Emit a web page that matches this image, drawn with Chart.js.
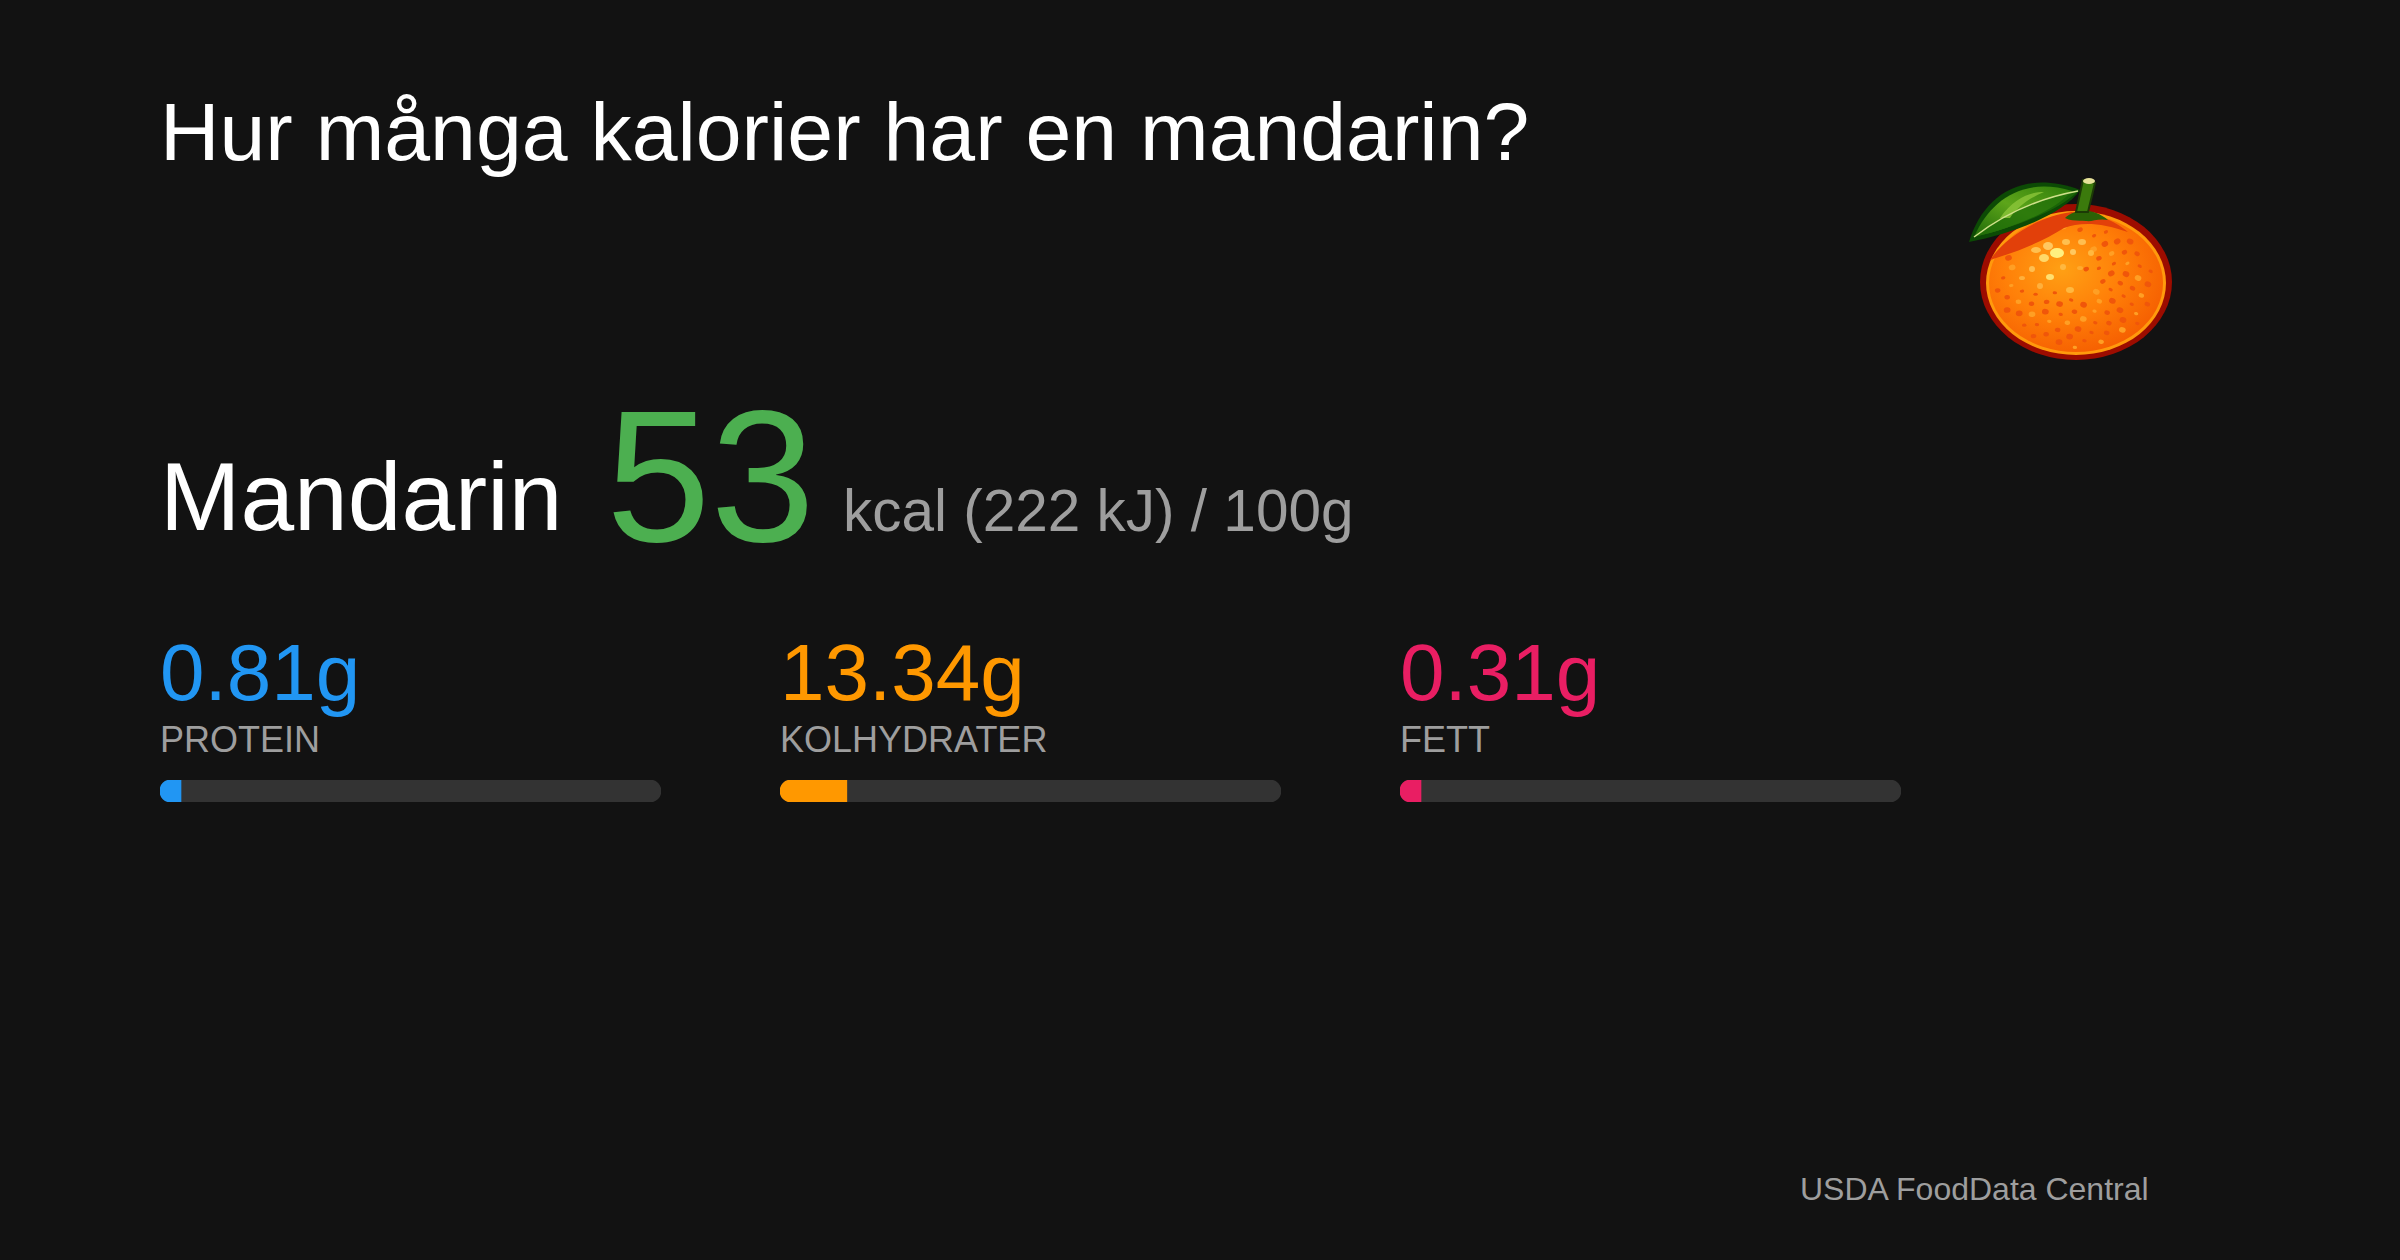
<!DOCTYPE html>
<html lang="sv">
<head>
<meta charset="utf-8">
<title>Hur många kalorier har en mandarin?</title>
<script src="https://cdn.jsdelivr.net/npm/chart.js@4/dist/chart.umd.min.js"></script>
<style>
    html, body { margin: 0; padding: 0; background: #121212; }
    body { position: relative; width: 2400px; height: 1260px; overflow: hidden; font-family: "Liberation Sans", Arial, sans-serif; }
    .txt { position: absolute; white-space: nowrap; line-height: 1; }
    .bar { position: absolute; top: 780px; width: 501px; height: 22px; }
    #fruit { position: absolute; left: 1960px; top: 170px; }
</style>
</head>
<body>
<div class="txt" style="left:160px;top:90px;font-size:82.4px;color:#fff;">Hur många kalorier har en mandarin?</div>
<div class="txt" style="left:160px;top:449px;font-size:96.5px;color:#fff;">Mandarin</div>
<div class="txt" id="kcal" style="left:606px;top:382px;font-size:188px;color:#4CAF50;"></div>
<div class="txt" style="left:843px;top:482px;font-size:58.5px;color:#9e9e9e;">kcal (222 kJ) / 100g</div>
<div id="nutrients"></div>
<div class="txt" style="left:1800px;top:1173px;font-size:32px;color:#9e9e9e;">USDA FoodData Central</div>

<svg id="fruit" width="220" height="200" viewBox="0 0 220 200">
    <defs>
        <radialGradient id="peel" cx="0.42" cy="0.4" r="0.68">
            <stop offset="0" stop-color="#ffa014"/>
            <stop offset="0.5" stop-color="#ff7f08"/>
            <stop offset="1" stop-color="#f45a00"/>
        </radialGradient>
        <linearGradient id="leaf" x1="0" y1="1" x2="1" y2="0">
            <stop offset="0" stop-color="#1f6a08"/>
            <stop offset="0.5" stop-color="#5da51a"/>
            <stop offset="1" stop-color="#2f7d0a"/>
        </linearGradient>
    </defs>
    <ellipse cx="116" cy="112" rx="96" ry="78" fill="#9c0c00"/>
    <ellipse cx="116" cy="113" rx="90" ry="72" fill="#ff9a0c"/>
    <ellipse cx="116" cy="113" rx="87" ry="69" fill="url(#peel)"/>
    <g id="spots"></g>
    <path d="M30 90 C46 66 80 46 112 42 C130 44 150 46 168 62 C140 52 120 52 104 58 C82 72 56 82 30 90Z" fill="#e2400a"/>
    <path d="M9 72 C22 28 60 -2 120 20 C104 44 52 64 9 72Z" fill="#0c4a05"/>
    <path d="M14 67 C30 30 64 6 112 21 C96 40 54 58 14 67Z" fill="url(#leaf)"/>
    <path d="M14 67 C44 44 80 28 118 21 C100 40 54 58 14 67Z" fill="#1f6d08" opacity="0.75"/>
    <path d="M40 48 C54 28 70 22 84 22 C70 28 58 36 50 48Z" fill="#8cc63a" opacity="0.8"/>
    <path d="M14 67 C44 44 80 28 118 21" fill="none" stroke="#cfe08a" stroke-width="1.5"/>
    <path d="M105 48 C116 38 134 38 148 50 C138 48 132 52 126 51 C120 50 112 52 105 48Z" fill="#2a6206"/>
    <path d="M116 42 L128 42 L135 13 L123 10Z" fill="#3b7a0c" stroke="#1c3a06" stroke-width="2"/>
    <ellipse cx="129" cy="11" rx="6" ry="3" fill="#e7e29a"/>
</svg>

<script>
    const calories = '53';
    const nutrientNames = ['PROTEIN', 'KOLHYDRATER', 'FETT'];
    const nutrientGrams = [0.81, 13.34, 0.31];
    const nutrientColors = ['#2196F3', '#FF9800', '#E91E63'];
    const columnLefts = [160, 780, 1400];

    document.getElementById('kcal').textContent = calories;

    const holder = document.getElementById('nutrients');

    function addText(left, top, size, color, text) {
        const el = document.createElement('div');
        el.className = 'txt';
        el.style.cssText = `left:${left}px;top:${top}px;font-size:${size}px;color:${color};`;
        el.textContent = text;
        holder.appendChild(el);
    }

    nutrientNames.forEach((name, i) => {
        addText(columnLefts[i], 633, 80, nutrientColors[i], nutrientGrams[i] + 'g');
        addText(columnLefts[i], 722, 36, '#9e9e9e', name);

        const wrap = document.createElement('div');
        wrap.className = 'bar';
        wrap.style.left = columnLefts[i] + 'px';
        const canvas = document.createElement('canvas');
        wrap.appendChild(canvas);
        holder.appendChild(wrap);

        // grams per 100g, so the axis runs 0-100; short values get the minimum bar
        new Chart(canvas, {
            type: 'bar',
            data: {
                labels: [name],
                datasets: [{
                    data: [nutrientGrams[i]],
                    backgroundColor: nutrientColors[i],
                    borderRadius: { topLeft: 11, bottomLeft: 11, topRight: 0, bottomRight: 0 },
                    borderSkipped: false,
                    minBarLength: 21,
                    order: 1
                }, {
                    data: [100],
                    backgroundColor: '#333333',
                    borderRadius: 11,
                    borderSkipped: false,
                    order: 2
                }]
            },
            options: {
                indexAxis: 'y',
                responsive: true,
                maintainAspectRatio: false,
                animation: false,
                layout: { padding: 0 },
                plugins: { legend: { display: false }, tooltip: { enabled: false } },
                datasets: { bar: { grouped: false, barPercentage: 1, categoryPercentage: 1 } },
                scales: {
                    x: { display: false, min: 0, max: 100 },
                    y: { display: false }
                }
            }
        });
    });

    // peel dimples on the mandarin, pale ones where the light hits it
    const spots = document.getElementById('spots');

    function addSpot(x, y, rx, ry, fill, angle) {
        const dot = document.createElementNS('http://www.w3.org/2000/svg', 'ellipse');
        dot.setAttribute('cx', x);
        dot.setAttribute('cy', y);
        dot.setAttribute('rx', rx);
        dot.setAttribute('ry', ry);
        dot.setAttribute('fill', fill);
        dot.setAttribute('transform', `rotate(${angle} ${x} ${y})`);
        spots.appendChild(dot);
    }

    for (let n = 6; n < 110; n++) {
        const r = Math.sqrt(n / 110);
        const a = n * 2.39996;
        const x = 116 + 80 * r * Math.cos(a);
        const y = 116 + 62 * r * Math.sin(a);
        if (x > 55 && x < 125 && y > 62 && y < 118) continue;
        const size = 1.6 + (n % 3) * 0.6;
        addSpot(x, y, size + 0.6, size, n % 4 === 0 ? '#ff9f24' : '#f0560a', (n * 37) % 60 - 30);
    }

    const glints = [[97, 83, 7, 5, '#fff080'], [84, 88, 5, 4, '#ffd868'], [88, 76, 5, 4, '#ffc860'], [76, 80, 5, 3, '#ffc050'],
        [106, 72, 4, 3, '#ffc050'], [113, 82, 3, 3, '#ffc860'], [90, 107, 4, 3, '#ffe070'], [72, 99, 3, 3, '#ffbe50'],
        [103, 97, 3, 3, '#ffb840'], [122, 72, 4, 3, '#ffbe50'], [131, 83, 3, 3, '#ffb840'], [110, 120, 4, 3, '#ffb840'],
        [62, 108, 3, 2, '#ffb03c'], [80, 116, 3, 3, '#ffb03c'], [120, 98, 3, 2, '#ffab2e']];
    glints.forEach(g => addSpot(g[0], g[1], g[2], g[3], g[4], 0));
</script>
</body>
</html>
